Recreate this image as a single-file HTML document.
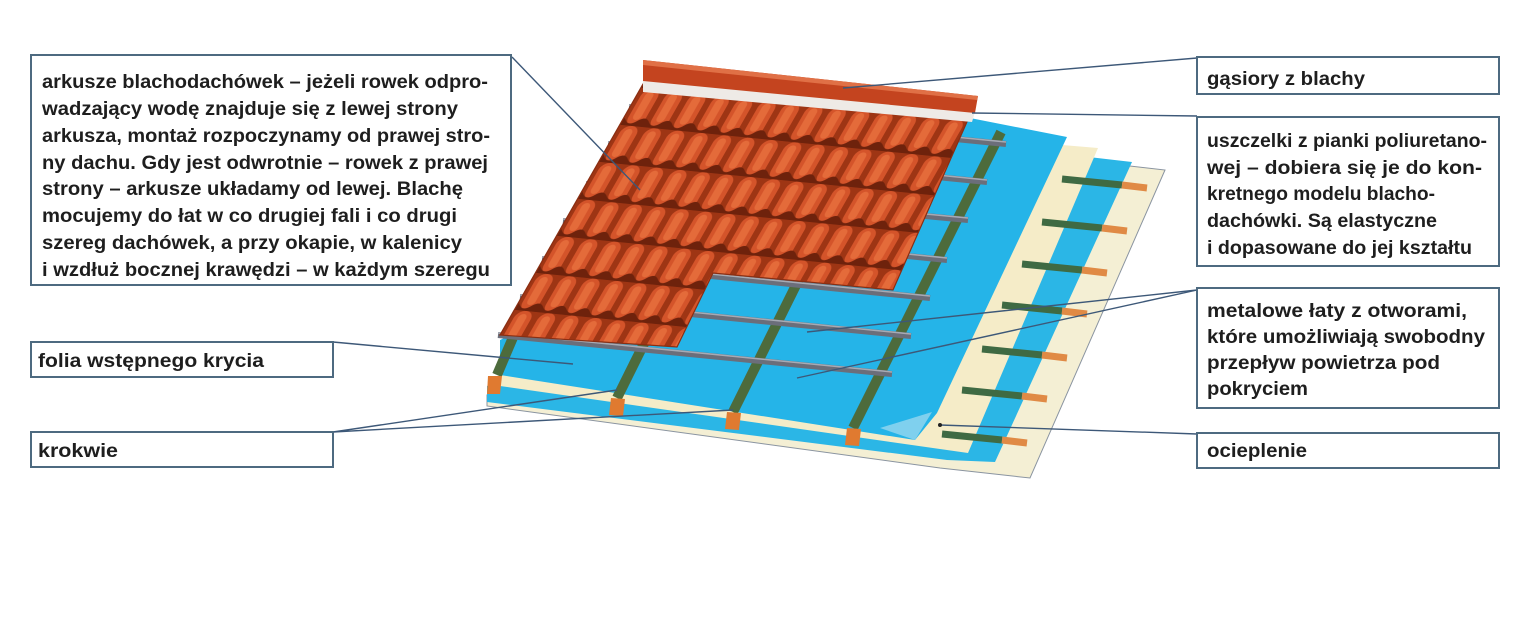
<!DOCTYPE html>
<html><head><meta charset="utf-8"><style>
html,body{margin:0;padding:0;background:#fff;}
svg{display:block;}
text{font-family:"Liberation Sans",sans-serif;font-weight:bold;font-size:19px;fill:#1e1e1e;}
</style></head><body>
<svg width="1530" height="621" viewBox="0 0 1530 621" xmlns="http://www.w3.org/2000/svg">
<defs>
<pattern id="tile" patternUnits="userSpaceOnUse" width="23.4" height="37" patternTransform="matrix(1,0.1,-0.572,1,643,88)">
<rect width="23.4" height="37" fill="#9e3514"/>
<rect x="2" y="0" width="17" height="37" rx="8" fill="#d4542a"/>
<rect x="6" y="3" width="8" height="28" rx="4" fill="#e8703f" opacity="0.8"/>
<path d="M0 31 Q6 38 12 32 T23.4 31 L23.4 37 L0 37Z" fill="#6e220c"/>
</pattern>
</defs>

<polygon points="990,150 1165,170 1030,478 940,468 487,406 487,395" fill="#f4efd4" stroke="#8a94a0" stroke-width="1"/>
<polygon points="985,145 1132,162 995,462 947,460 487,402 487,386" fill="#2bb6e6"/>
<polygon points="978,138 1098,148 968,453 500,386 497,372" fill="#f5ecc8"/>
<polygon points="970,118 1067,137 937,413 915,440 500,375 500,340" fill="#25b4e8"/>
<polygon points="880,428 932,412 915,440" fill="#7fd0ee"/>

<g stroke-width="7" stroke-linecap="butt">
<line x1="1062" y1="179" x2="1122" y2="185" stroke="#3f6a43"/><line x1="1122" y1="185" x2="1147" y2="188" stroke="#e08a45"/>
<line x1="1042" y1="222" x2="1102" y2="228" stroke="#3f6a43"/><line x1="1102" y1="228" x2="1127" y2="231" stroke="#e08a45"/>
<line x1="1022" y1="264" x2="1082" y2="270" stroke="#3f6a43"/><line x1="1082" y1="270" x2="1107" y2="273" stroke="#e08a45"/>
<line x1="1002" y1="305" x2="1062" y2="311" stroke="#3f6a43"/><line x1="1062" y1="311" x2="1087" y2="314" stroke="#e08a45"/>
<line x1="982" y1="349" x2="1042" y2="355" stroke="#3f6a43"/><line x1="1042" y1="355" x2="1067" y2="358" stroke="#e08a45"/>
<line x1="962" y1="390" x2="1022" y2="396" stroke="#3f6a43"/><line x1="1022" y1="396" x2="1047" y2="399" stroke="#e08a45"/>
<line x1="942" y1="434" x2="1002" y2="440" stroke="#3f6a43"/><line x1="1002" y1="440" x2="1027" y2="443" stroke="#e08a45"/>
</g>

<g stroke="#4d6b3c" stroke-width="10">
<line x1="497" y1="375" x2="514" y2="335"/>
<line x1="617" y1="398" x2="770" y2="90"/>
<line x1="733" y1="412" x2="886" y2="104"/>
<line x1="853" y1="428" x2="1001" y2="132"/>
</g>
<g fill="#e07a30">
<polygon points="488,376 502,376 500,394 487,394"/>
<polygon points="611,398 625,399 623,416 609,415"/>
<polygon points="727,412 741,413 739,430 725,429"/>
<polygon points="847,428 861,429 859,446 845,445"/>
</g>

<g stroke="#6b6e7a" stroke-width="6">
<line x1="629" y1="107" x2="1006" y2="144"/>
<line x1="608" y1="144" x2="987" y2="182"/>
<line x1="586" y1="184" x2="968" y2="220"/>
<line x1="563" y1="221" x2="947" y2="260"/>
<line x1="542" y1="259" x2="930" y2="298"/>
<line x1="520" y1="297" x2="911" y2="336"/>
<line x1="498" y1="335" x2="892" y2="374"/>
</g>
<g stroke="#a7aab4" stroke-width="1.5">
<line x1="629" y1="105" x2="1006" y2="142"/>
<line x1="608" y1="142" x2="987" y2="180"/>
<line x1="586" y1="182" x2="968" y2="218"/>
<line x1="563" y1="219" x2="947" y2="258"/>
<line x1="542" y1="257" x2="930" y2="296"/>
<line x1="520" y1="295" x2="911" y2="334"/>
<line x1="498" y1="333" x2="892" y2="372"/>
</g>

<polygon points="643,84 970,115 893,290 713,273 677,347 500,335" fill="url(#tile)" stroke="#8a2e12" stroke-width="1.2"/>
<polygon points="643,80 975,112 972,122 643,92" fill="#eeeae6"/>
<polygon points="643,60 978,96 975,113 643,81" fill="#c4441f"/>
<polygon points="643,60 978,96 977,100 643,65" fill="#e07046"/>

<g stroke="#3d5878" stroke-width="1.4" fill="none">
<line x1="512" y1="57" x2="640" y2="190"/>
<line x1="1197" y1="58" x2="843" y2="88"/>
<line x1="1197" y1="116" x2="972" y2="113"/>
<line x1="1197" y1="290" x2="807" y2="332"/>
<line x1="1197" y1="290" x2="797" y2="378"/>
<line x1="1197" y1="434" x2="940" y2="425"/>
<line x1="333" y1="342" x2="573" y2="364"/>
<line x1="333" y1="432" x2="617" y2="390"/>
<line x1="333" y1="432" x2="733" y2="410"/>
</g>
<circle cx="940" cy="425" r="2" fill="#222"/>

<g fill="#fff" stroke="#4d6a80" stroke-width="2">
<rect x="31" y="55" width="480" height="230"/>
<rect x="31" y="342" width="302" height="35"/>
<rect x="31" y="432" width="302" height="35"/>
<rect x="1197" y="57" width="302" height="37"/>
<rect x="1197" y="117" width="302" height="149"/>
<rect x="1197" y="288" width="302" height="120"/>
<rect x="1197" y="433" width="302" height="35"/>
</g>

<g>
<text x="42" y="88" textLength="446" lengthAdjust="spacingAndGlyphs">arkusze blachodachówek – jeżeli rowek odpro-</text>
<text x="42" y="115" textLength="416" lengthAdjust="spacingAndGlyphs">wadzający wodę znajduje się z lewej strony</text>
<text x="42" y="142" textLength="448" lengthAdjust="spacingAndGlyphs">arkusza, montaż rozpoczynamy od prawej stro-</text>
<text x="42" y="169" textLength="446" lengthAdjust="spacingAndGlyphs">ny dachu. Gdy jest odwrotnie – rowek z prawej</text>
<text x="42" y="195" textLength="421" lengthAdjust="spacingAndGlyphs">strony – arkusze układamy od lewej. Blachę</text>
<text x="42" y="222" textLength="415" lengthAdjust="spacingAndGlyphs">mocujemy do łat w co drugiej fali i co drugi</text>
<text x="42" y="249" textLength="420" lengthAdjust="spacingAndGlyphs">szereg dachówek, a przy okapie, w kalenicy</text>
<text x="42" y="276" textLength="448" lengthAdjust="spacingAndGlyphs">i wzdłuż bocznej krawędzi – w każdym szeregu</text>

<text x="38" y="367" textLength="226" lengthAdjust="spacingAndGlyphs">folia wstępnego krycia</text>
<text x="38" y="457" textLength="80" lengthAdjust="spacingAndGlyphs">krokwie</text>

<text x="1207" y="85" textLength="158" lengthAdjust="spacingAndGlyphs">gąsiory z blachy</text>
<text x="1207" y="147" textLength="280" lengthAdjust="spacingAndGlyphs">uszczelki z pianki poliuretano-</text>
<text x="1207" y="174" textLength="275" lengthAdjust="spacingAndGlyphs">wej – dobiera się je do kon-</text>
<text x="1207" y="200" textLength="228" lengthAdjust="spacingAndGlyphs">kretnego modelu blacho-</text>
<text x="1207" y="227" textLength="230" lengthAdjust="spacingAndGlyphs">dachówki. Są elastyczne</text>
<text x="1207" y="254" textLength="265" lengthAdjust="spacingAndGlyphs">i dopasowane do jej kształtu</text>
<text x="1207" y="317" textLength="260" lengthAdjust="spacingAndGlyphs">metalowe łaty z otworami,</text>
<text x="1207" y="343" textLength="278" lengthAdjust="spacingAndGlyphs">które umożliwiają swobodny</text>
<text x="1207" y="369" textLength="233" lengthAdjust="spacingAndGlyphs">przepływ powietrza pod</text>
<text x="1207" y="395" textLength="101" lengthAdjust="spacingAndGlyphs">pokryciem</text>
<text x="1207" y="457" textLength="100" lengthAdjust="spacingAndGlyphs">ocieplenie</text>
</g>
</svg>
</body></html>
